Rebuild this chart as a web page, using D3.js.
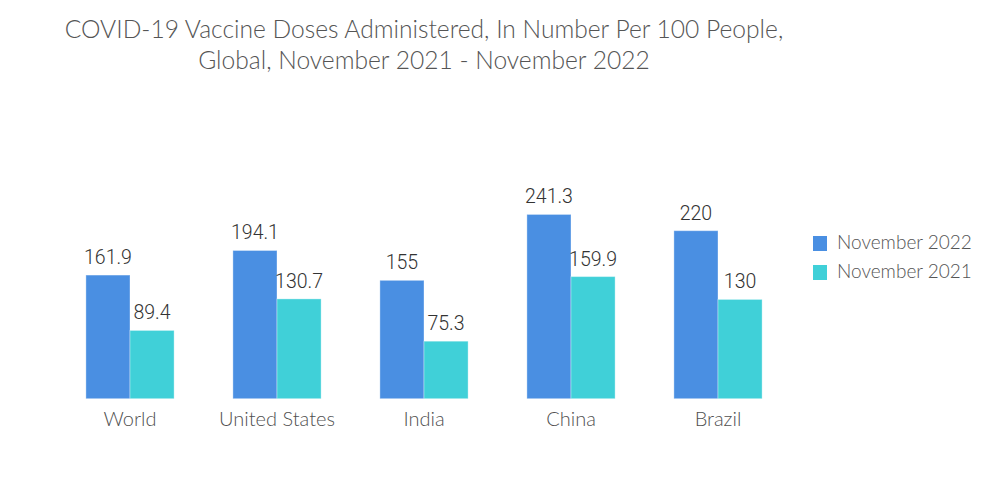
<!DOCTYPE html>
<html>
<head>
<meta charset="utf-8">
<script src="https://cdn.jsdelivr.net/npm/d3@7"></script>
<style>
  body { margin: 0; background: #fff; }
  svg text { font-family: Lato, "Open Sans", sans-serif; }
</style>
</head>
<body>
<div id="chart"></div>
<script>
// data
var categories = ["World", "United States", "India", "China", "Brazil"];
var seriesNames = ["November 2022", "November 2021"];
var values2022 = [161.9, 194.1, 155, 241.3, 220];
var values2021 = [89.4, 130.7, 75.3, 159.9, 130];
var valueLabels2022 = ["161.9", "194.1", "155", "241.3", "220"];
var valueLabels2021 = ["89.4", "130.7", "75.3", "159.9", "130"];

var colors = ["#4a8fe2", "#40d0d8"];

var svg = d3.select("#chart").append("svg")
  .attr("width", 1000)
  .attr("height", 504);

// title
var title = svg.append("text")
  .attr("x", 424)
  .attr("y", 38)
  .attr("text-anchor", "middle")
  .style("font-size", "24.6px")
  .style("font-weight", 300)
  .style("fill", "#555");
title.append("tspan").attr("x", 424).attr("dy", 0)
  .text("COVID-19 Vaccine Doses Administered, In Number Per 100 People,");
title.append("tspan").attr("x", 424).attr("dy", 31)
  .text("Global, November 2021 - November 2022");

// scales
var x0 = d3.scaleBand()
  .domain(categories)
  .range([56.5, 791.5])
  .paddingInner(0.4)
  .paddingOuter(0.2);

var x1 = d3.scaleBand()
  .domain(seriesNames)
  .range([0, x0.bandwidth()]);

var y = d3.scaleLinear()
  .domain([0, 300])
  .range([398.7, 398.7 - 300 * 0.7636]);

var rows = categories.map(function(c, i) {
  return {
    category: c,
    bars: [
      { key: seriesNames[0], value: values2022[i], label: valueLabels2022[i] },
      { key: seriesNames[1], value: values2021[i], label: valueLabels2021[i] }
    ]
  };
});

var groups = svg.selectAll(".group")
  .data(rows)
  .enter().append("g")
  .attr("class", "group")
  .attr("transform", function(d) { return "translate(" + x0(d.category) + ",0)"; });

groups.selectAll("rect")
  .data(function(d) { return d.bars; })
  .enter().append("rect")
  .attr("x", function(d) { return x1(d.key); })
  .attr("y", function(d) { return y(d.value); })
  .attr("width", x1.bandwidth())
  .attr("height", function(d) { return y(0) - y(d.value); })
  .attr("fill", function(d, i) { return colors[i]; })
  .attr("stroke", "rgba(255,255,255,0.35)")
  .attr("stroke-width", 1);

groups.selectAll(".val")
  .data(function(d) { return d.bars; })
  .enter().append("text")
  .attr("class", "val")
  .attr("x", function(d) { return x1(d.key) + x1.bandwidth() / 2; })
  .attr("y", function(d) { return y(d.value) - 11; })
  .attr("text-anchor", "middle")
  .style("font-family", "Roboto, sans-serif")
  .style("font-size", "19.5px")
  .style("font-weight", 300)
  .style("fill", "#333")
  .text(function(d) { return d.label; });

// x axis labels
var xAxis = d3.axisBottom(x0).tickSize(0).tickPadding(13);
var gx = svg.append("g")
  .attr("transform", "translate(0," + y(0) + ")")
  .call(xAxis);
gx.select(".domain").remove();
gx.selectAll("text")
  .style("font-family", "Lato, sans-serif")
  .style("font-size", "20px")
  .style("font-weight", 300)
  .style("fill", "#505050");

// legend
var legend = svg.selectAll(".legend")
  .data(seriesNames)
  .enter().append("g")
  .attr("class", "legend")
  .attr("transform", function(d, i) { return "translate(813," + (236 + i * 29) + ")"; });

legend.append("rect")
  .attr("width", 14)
  .attr("height", 15)
  .attr("fill", function(d, i) { return colors[i]; });

legend.append("text")
  .attr("x", 24)
  .attr("y", 13)
  .style("font-size", "19px")
  .style("font-weight", 300)
  .style("fill", "#555")
  .text(function(d) { return d; });
</script>
</body>
</html>
